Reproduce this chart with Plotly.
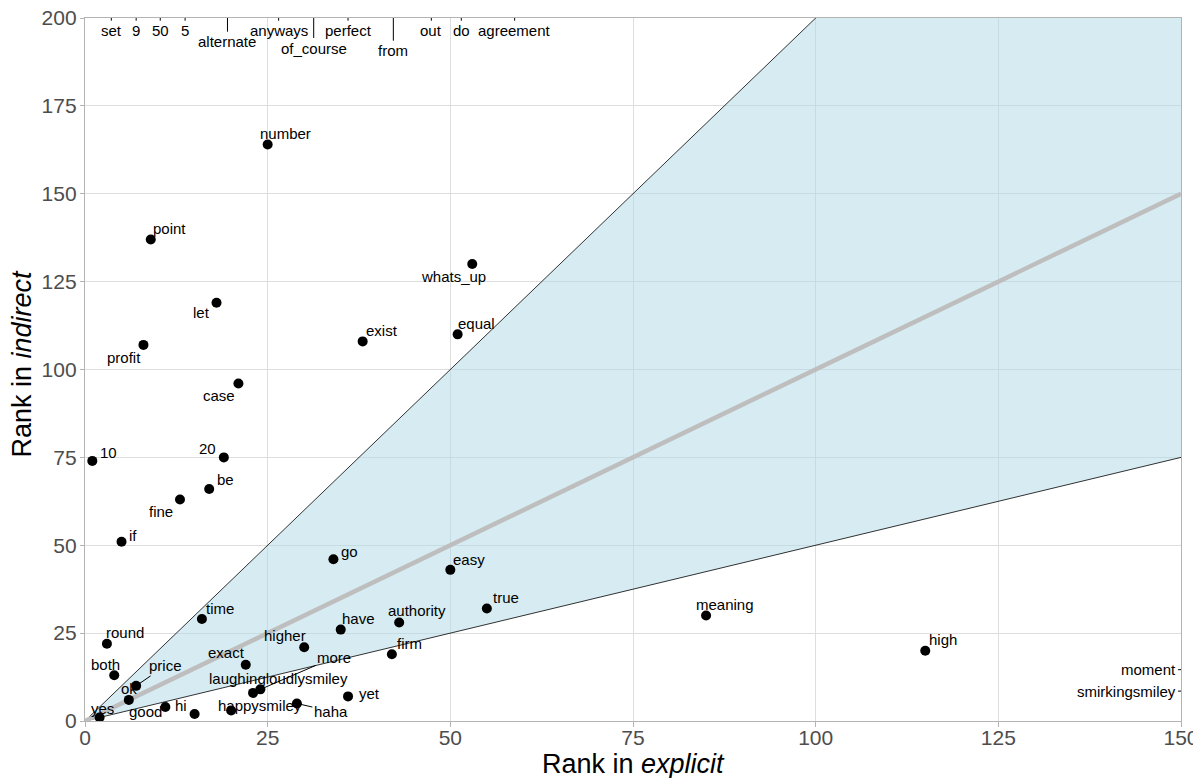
import plotly.graph_objects as go

# ---------------- data ----------------
X_MAX, Y_MAX = 150, 200
band_ratios = [0.5, 2.0]   # y = 0.5x and y = 2x
diag_ratio = 1.0           # y = x

words = ["number", "point", "whats_up", "let", "exist", "equal", "profit", "case",
         "10", "20", "be", "fine", "if", "go", "easy", "true", "meaning", "high",
         "time", "have", "authority", "round", "higher", "firm", "exact", "both",
         "price", "ok", "yes", "good", "hi", "happysmiley", "laughingloudlysmiley",
         "more", "haha", "yet"]
explicit_rank = [25, 9, 53, 18, 38, 51, 8, 21,
                 1, 19, 17, 13, 5, 34, 50, 55, 85, 115,
                 16, 35, 43, 3, 30, 42, 22, 4,
                 7, 6, 2, 11, 15, 20, 23,
                 24, 29, 36]
indirect_rank = [164, 137, 130, 119, 108, 110, 107, 96,
                 74, 75, 66, 63, 51, 46, 43, 32, 30, 20,
                 29, 26, 28, 22, 21, 19, 16, 13,
                 10, 6, 1, 4, 2, 3, 8,
                 9, 5, 7]

# words whose indirect rank lies above the plotted range
top_words = ["set", "9", "50", "5", "alternate", "anyways", "of_course", "perfect",
             "from", "out", "do", "agreement"]
top_explicit = [3.6, 7.0, 10.3, 13.7, 19.5, 26.5, 31.3, 36.0, 42.2, 47.4, 51.5, 58.8]

# words whose explicit rank lies beyond the plotted range
right_words = ["moment", "smirkingsmiley"]
right_indirect = [14.6, 8.5]

# ---------------- label placement (pixel offsets, +dy = down) ----------------
label_offset = {
    "number": (18, -11), "point": (19, -11), "whats_up": (-19, 12), "let": (-15, 10),
    "exist": (19, -11), "equal": (19, -11), "profit": (-19, 13), "case": (-19, 12),
    "10": (16, -8), "20": (-16, -9), "be": (16, -10), "fine": (-19, 12), "if": (11, -6),
    "go": (16, -8), "easy": (19, -10), "true": (19, -11), "meaning": (19, -11),
    "high": (18, -11), "time": (18, -11), "have": (18, -11), "authority": (18, -12),
    "round": (18, -11), "higher": (-19, -12), "firm": (18, -11), "exact": (-19, -12),
    "both": (-9, -11), "ok": (0, -11), "yes": (3, -9), "good": (-20, 5), "hi": (-14, -8),
    "happysmiley": (29, -5), "laughingloudlysmiley": (25, -14), "yet": (21, -3),
    "price": (29, -20), "more": (74, -32), "haha": (34, 8),
}
segment_words = {"price", "more", "haha"}
top_offset = {"set": 12.7, "9": 12.7, "50": 12.7, "5": 12.7, "alternate": 23.7,
              "anyways": 12.7, "of_course": 30, "perfect": 12.7, "from": 32.7,
              "out": 12.7, "do": 12.7, "agreement": 12.7}

FONT = "Liberation Sans, Arial, Helvetica, sans-serif"
LABEL_SIZE = 15
TITLE_SIZE = 27

fig = go.Figure()

# shaded band between y = 0.5x and y = 2x
lo, hi = min(band_ratios), max(band_ratios)
fig.add_trace(go.Scatter(
    x=[0, X_MAX, X_MAX], y=[0, hi * X_MAX, lo * X_MAX],
    mode="lines", fill="toself", fillcolor="rgba(173,216,230,0.5)",
    line=dict(width=0), hoverinfo="skip"))
for r in band_ratios:
    fig.add_trace(go.Scatter(x=[0, X_MAX], y=[0, r * X_MAX], mode="lines",
                             line=dict(color="black", width=0.8), hoverinfo="skip"))
fig.add_trace(go.Scatter(x=[0, X_MAX], y=[0, diag_ratio * X_MAX], mode="lines",
                         line=dict(color="#bebebe", width=4.5), hoverinfo="skip"))

fig.add_trace(go.Scatter(x=explicit_rank, y=indirect_rank, mode="markers",
                         marker=dict(color="black", size=10), text=words,
                         hoverinfo="text"))

annotations = []
for w, xv, yv in zip(words, explicit_rank, indirect_rank):
    dx, dy = label_offset[w]
    if w in segment_words:
        annotations.append(dict(x=xv, y=yv, xref="x", yref="y", text=w,
                                showarrow=True, arrowhead=0, arrowwidth=1,
                                arrowcolor="black", ax=dx, ay=dy, standoff=4,
                                font=dict(size=LABEL_SIZE, color="black", family=FONT)))
    else:
        annotations.append(dict(x=xv, y=yv, xref="x", yref="y", text=w,
                                showarrow=False, xshift=dx, yshift=-dy,
                                font=dict(size=LABEL_SIZE, color="black", family=FONT)))

for w, xv in zip(top_words, top_explicit):
    annotations.append(dict(x=xv, y=Y_MAX, xref="x", yref="y", text=w,
                            showarrow=True, arrowhead=0, arrowwidth=1,
                            arrowcolor="black", ax=0, ay=top_offset[w], standoff=0,
                            font=dict(size=LABEL_SIZE, color="black", family=FONT)))

shapes = []
for w, yv in zip(right_words, right_indirect):
    annotations.append(dict(x=X_MAX, y=yv, xref="x", yref="y", text=w,
                            showarrow=False, xanchor="right", xshift=-3,
                            font=dict(size=LABEL_SIZE, color="black", family=FONT)))
    shapes.append(dict(type="line", xref="x", yref="y", xsizemode="pixel",
                       xanchor=X_MAX, x0=-3, x1=0, y0=yv, y1=yv,
                       line=dict(color="black", width=1)))

# axis titles
annotations.append(dict(x=0.5, y=0, xref="paper", yref="paper", text="Rank in <i>explicit</i>",
                        showarrow=False, xanchor="center", yanchor="middle", yshift=-43,
                        font=dict(size=TITLE_SIZE, color="black", family=FONT)))
annotations.append(dict(x=0, y=0.5, xref="paper", yref="paper", text="Rank in <i>indirect</i>",
                        showarrow=False, xanchor="center", yanchor="middle", xshift=-64,
                        yshift=6, textangle=-90,
                        font=dict(size=TITLE_SIZE, color="black", family=FONT)))

axis_common = dict(
    showgrid=True, gridcolor="#dedede", gridwidth=1, zeroline=False,
    showline=True, linecolor="#b3b3b3", linewidth=1.3, mirror=True,
    ticks="outside", tickcolor="#b3b3b3", tickwidth=1,
    tickfont=dict(size=21, color="#4d4d4d", family=FONT),
    automargin=False, ticklabeloverflow="allow",
)

# the page places the figure 8 px in from the top-left corner
fig.update_layout(
    width=1193, height=770,
    margin=dict(l=77, r=20, t=10, b=57),
    plot_bgcolor="white", paper_bgcolor="white",
    showlegend=False,
    font=dict(family=FONT),
    annotations=annotations, shapes=shapes,
    xaxis=dict(range=[0, X_MAX], tickvals=list(range(0, X_MAX + 1, 25)),
               ticklen=5, ticklabelstandoff=-7, **axis_common),
    yaxis=dict(range=[0, Y_MAX], tickvals=list(range(0, Y_MAX + 1, 25)),
               ticklen=4, ticklabelstandoff=-1, **axis_common),
)

fig.write_html("out.html")
